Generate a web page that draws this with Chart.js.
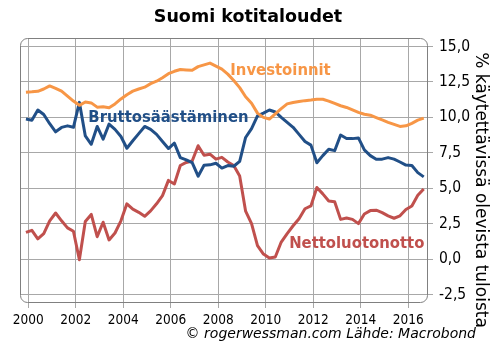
<!DOCTYPE html>
<html>
<head>
<meta charset="utf-8">
<script src="https://cdn.jsdelivr.net/npm/chart.js@4/dist/chart.umd.min.js"></script>
<style>
  body { margin: 0; background: #fff; }
</style>
</head>
<body>
<canvas id="myChart" width="496" height="361"></canvas>
<script>
// quarterly data 2000Q1 - 2016Q4, % of disposable income
const quarters = [];
for (let y = 2000; y <= 2016; y++) for (let q = 1; q <= 4; q++) quarters.push(y + 'Q' + q);

const investoinnit = [
  11.77, 11.8, 11.84, 12.0, 12.22, 12.05, 11.85, 11.5, 11.15, 10.85,
  11.08, 11.02, 10.72, 10.75, 10.68, 10.95, 11.3, 11.6, 11.85, 12.0,
  12.13, 12.38, 12.55, 12.8, 13.08, 13.25, 13.38, 13.35, 13.32, 13.58,
  13.7, 13.83, 13.62, 13.4, 13.05, 12.6, 12.1, 11.45, 11.0, 10.3,
  10.0, 9.88, 10.25, 10.62, 10.95, 11.05, 11.12, 11.18, 11.22, 11.27,
  11.28, 11.15, 10.98, 10.82, 10.7, 10.52, 10.35, 10.22, 10.15, 9.98,
  9.82, 9.65, 9.5, 9.36, 9.4, 9.58, 9.8, 9.95
];
const bruttosaastaminen = [
  9.88, 9.8, 10.52, 10.2, 9.55, 8.98, 9.29, 9.4, 9.3, 11.06,
  8.69, 8.1, 9.36, 8.46, 9.52, 9.15, 8.65, 7.82, 8.35, 8.85,
  9.36, 9.15, 8.8, 8.3, 7.8, 8.18, 7.16, 7.0, 6.8, 5.85,
  6.62, 6.65, 6.76, 6.42, 6.6, 6.55, 6.9, 8.58, 9.2, 10.1,
  10.3, 10.52, 10.38, 10.0, 9.65, 9.3, 8.8, 8.3, 8.04, 6.8,
  7.3, 7.75, 7.65, 8.75, 8.51, 8.5, 8.55, 7.7, 7.3, 7.04,
  7.05, 7.16, 7.05, 6.85, 6.63, 6.6, 6.1, 5.8
];
const nettoluotonotto = [
  1.88, 2.03, 1.43, 1.8, 2.7, 3.25, 2.7, 2.2, 1.96, -0.05,
  2.65, 3.15, 1.58, 2.6, 1.35, 1.84, 2.7, 3.9, 3.52, 3.3,
  3.02, 3.4, 3.9, 4.48, 5.55, 5.3, 6.6, 6.82, 6.92, 8.0,
  7.33, 7.4, 7.05, 7.18, 6.85, 6.6, 5.86, 3.38, 2.5, 0.95,
  0.35, 0.07, 0.15, 1.2, 1.8, 2.35, 2.85, 3.55, 3.75, 5.05,
  4.6, 4.1, 4.05, 2.8, 2.9, 2.8, 2.5, 3.18, 3.42, 3.45,
  3.28, 3.05, 2.88, 3.05, 3.5, 3.75, 4.5, 4.95
];

const yearTicks = [2000, 2002, 2004, 2006, 2008, 2010, 2012, 2014, 2016];
const valueTicks = [-2.5, 0, 2.5, 5, 7.5, 10, 12.5, 15];

const ORANGE = '#f79646';
const BLUE = '#214f87';
const RED = '#c0504d';
const GRID = '#a8a8a8';
const FONT = "'DejaVu Sans Condensed', 'DejaVu Sans', sans-serif";

// quarter label -> position on the year axis
const qx = (label) => {
  const y = +label.slice(0, 4), q = +label.slice(5);
  return y + (q - 1) / 4 - 0.1;
};
const toPoints = (vals) => vals.map((v, i) => ({x: qx(quarters[i]), y: v}));

const frame = {
  id: 'frame',
  beforeDatasetsDraw(chart) {
    const {ctx, chartArea: a} = chart;
    ctx.save();
    ctx.strokeStyle = '#808080';
    ctx.lineWidth = 1;
    ctx.beginPath();
    ctx.roundRect(a.left + 0.5, a.top + 0.5, a.width - 1, a.height - 1, 7);
    ctx.stroke();
    ctx.restore();
  }
};

const textBits = {
  id: 'textBits',
  afterDatasetsDraw(chart) {
    const {ctx, scales: {x, y}} = chart;
    const notes = [
      {text: 'Investoinnit', at: [2010.62, 13.3], color: ORANGE},
      {text: 'Bruttosäästäminen', at: [2005.9, 9.95], color: BLUE},
      {text: 'Nettoluotonotto', at: [2013.83, 1.06], color: RED}
    ];
    ctx.save();
    ctx.font = "bold 16.5px " + FONT;
    ctx.textAlign = 'center';
    ctx.textBaseline = 'middle';
    notes.forEach(n => {
      ctx.fillStyle = n.color;
      ctx.fillText(n.text, x.getPixelForValue(n.at[0]), y.getPixelForValue(n.at[1]));
    });
    ctx.restore();
  },
  afterDraw(chart) {
    const {ctx, width} = chart;
    ctx.save();
    ctx.fillStyle = '#000';
    ctx.textBaseline = 'middle';
    // footer
    ctx.font = "italic 14px 'DejaVu Sans', sans-serif";
    ctx.textAlign = 'right';
    ctx.fillText('© rogerwessman.com Lähde: Macrobond', width - 20, 334);
    // right axis title
    ctx.font = "17px 'DejaVu Sans', sans-serif";
    ctx.textAlign = 'center';
    ctx.translate(480, 190);
    ctx.rotate(Math.PI / 2);
    ctx.fillText('% käytettävissä olevista tuloista', 0, 0);
    ctx.restore();
  }
};

new Chart(document.getElementById('myChart'), {
  type: 'line',
  data: {
    datasets: [
      {label: 'Investoinnit', data: toPoints(investoinnit), borderColor: ORANGE},
      {label: 'Bruttosäästäminen', data: toPoints(bruttosaastaminen), borderColor: BLUE},
      {label: 'Nettoluotonotto', data: toPoints(nettoluotonotto), borderColor: RED}
    ]
  },
  options: {
    responsive: false,
    animation: false,
    devicePixelRatio: 1,
    elements: {
      line: {borderWidth: 3, tension: 0, borderJoinStyle: 'round'},
      point: {radius: 0}
    },
    layout: {padding: {left: 20, right: 20, top: 0, bottom: 32}},
    plugins: {
      legend: {display: false},
      tooltip: {enabled: false},
      title: {
        display: true,
        text: 'Suomi kotitaloudet',
        color: '#000',
        font: {family: "'DejaVu Sans', sans-serif", size: 17.5, weight: 'bold'},
        padding: {top: 7, bottom: 10}
      }
    },
    scales: {
      x: {
        type: 'linear',
        min: 1999.65,
        max: 2016.83,
        afterBuildTicks: (axis) => { axis.ticks = yearTicks.map(v => ({value: v})); },
        afterFit: (axis) => { axis.height = 26; },
        ticks: {
          callback: (v) => String(v),
          color: '#000',
          padding: 4,
          maxRotation: 0,
          font: {family: FONT, size: 13.5}
        },
        grid: {color: GRID, tickLength: 5},
        border: {display: false}
      },
      y: {
        position: 'right',
        min: -3.1,
        max: 15.6,
        afterBuildTicks: (axis) => { axis.ticks = valueTicks.map(v => ({value: v})); },
        afterFit: (axis) => { axis.width = 48; },
        ticks: {
          callback: (v) => v.toFixed(1).replace('.', ','),
          color: '#000',
          padding: 6,
          crossAlign: 'near',
          font: {family: FONT, size: 15.5}
        },
        grid: {color: GRID, tickLength: 5},
        border: {display: false}
      }
    }
  },
  plugins: [frame, textBits]
});
</script>
</body>
</html>
